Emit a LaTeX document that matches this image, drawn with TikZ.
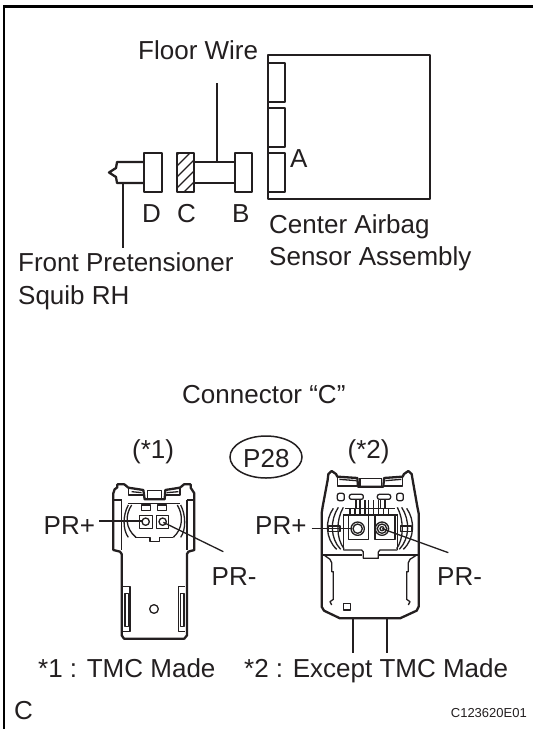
\documentclass[tikz,border=0pt]{standalone}
\usepackage{fontspec}
\setmainfont{Liberation Sans}
\usetikzlibrary{shapes.geometric}
\definecolor{ink}{HTML}{231F20}
\tikzset{
 thick line/.style={line width=2.3pt,draw=ink,line join=round},
 thin line/.style={line width=1.3pt,draw=ink},
 mid line/.style={line width=1.3pt,draw=ink,line join=round},
 lbl/.style={font=\fontsize{26}{30}\selectfont,text=ink,inner sep=0pt,anchor=base west},
 smalllbl/.style={font=\fontsize{13}{15}\selectfont,text=ink,inner sep=0pt,anchor=base east},
}
\begin{document}
\begin{tikzpicture}[x=1pt,y=-1pt]
\useasboundingbox (0,0) rectangle (533,729);
\fill[white] (0,0) rectangle (533,729);
\draw[line width=2.4pt,draw=black] (4,729) -- (4,6.5) -- (533,6.5);
% sensor
\draw[thick line] (268,55) rectangle (430,199);
\draw[thick line] (268,63) rectangle (285,102);
\draw[thick line] (268,108) rectangle (285,147);
\draw[thick line] (268,153) rectangle (285,192);
% connectors
\draw[thick line] (144,153) rectangle (162,192);
\begin{scope}
\clip (177,153) rectangle (194,192);
\foreach \k in {0,...,5} \draw[mid line] (170,{162+\k*11}) -- (200,{132+\k*11});
\end{scope}
\draw[thick line] (177,153) rectangle (194,192);
\draw[thick line] (235,153) rectangle (252,192);
\draw[thick line] (194,162) -- (235,162) (194,183) -- (235,183);
\draw[thick line] (144,162) -- (117,162) -- (116,168) -- (109,172.5) -- (116,177) -- (117,183) -- (144,183);
\coordinate (fw) at (217,83); \coordinate (fwb) at (217,162);
\draw[thin line] (fw) -- (fwb);
\coordinate (sq) at (123,183); \coordinate (sqb) at (123,248);
\draw[thin line] (sq) -- (sqb);
% labels
\node[lbl] (t1) at (138,59) {Floor Wire};
\node[lbl] (t2) at (290,167.5) {A};
\node[lbl] (t3) at (142,222) {D};
\node[lbl] (t4) at (177,222) {C};
\node[lbl] (t5) at (232,222) {B};
\node[lbl] (t6) at (269,233) {Center Airbag};
\node[lbl] (t7) at (269,265) {Sensor Assembly};
\node[lbl] (t8) at (18,271) {Front Pretensioner};
\node[lbl] (t9) at (18,304) {Squib RH};
\node[lbl] (t10) at (182,403) {Connector “C”};
\node[lbl] (t11) at (132,458.5) {(*1)};
\node[lbl] (t12) at (347.5,458) {(*2)};
\node[draw=ink,line width=1.5pt,ellipse,minimum width=72pt,minimum height=42pt,inner sep=0pt] (oval) at (266,457) {};
\node[lbl] (t13) at (243,467) {P28};
\node[lbl] (t14) at (43.5,534) {PR+};
\node[lbl] (t15) at (211.5,585) {PR-};
\node[lbl] (t16) at (255,534) {PR+};
\node[lbl] (t17) at (437,585) {PR-};
\node[lbl] (t18) at (38,677.5) {*1 : TMC Made};
\node[lbl] (t19) at (244,677.5) {*2 : Except TMC Made};
\node[lbl] (t20) at (14,719) {C};
\node[smalllbl] (t21) at (527,717) {C123620E01};
% connector 1
\begin{scope}[shift={(60pt,-450pt)},x=0.33333pt,y=-0.33333pt]
\draw[thick line] (160,300) -- (160,130) -- (164,118) -- (172,112) -- (172,103) -- (193,103) -- (205,113) -- (250,120) -- (254,148) -- (314,148) -- (316,120) -- (360,113) -- (372,103) -- (392,103) -- (392,113) -- (403,130) -- (403,300) -- (385,305) -- (381,312) -- (381,556) -- (373,566) -- (192,566) -- (185,556) -- (185,312) -- (180,305) -- cycle;
\draw[mid line] (262,148) -- (262,122) -- (305,122) -- (305,148);
\draw[mid line] (205,113) -- (205,135) -- (250,135) (316,135) -- (360,135) -- (360,113);
\draw[mid line] (215,125) -- (245,128) (320,128) -- (355,125);
\draw[mid line] (185,150) -- (185,300) (381,150) -- (381,300) (160,150) -- (185,150) (381,150) -- (403,150);
\draw[mid line] (245,165) rectangle (272,182) (292,165) rectangle (320,182);
\draw[mid line] (205,160) -- (360,160);
\draw[mid line] (215,165) .. controls (195,195) and (195,235) .. (228,262);
\draw[mid line] (205,165) .. controls (188,195) and (188,240) .. (205,262);
\draw[mid line] (352,165) .. controls (370,195) and (370,235) .. (340,262);
\draw[mid line] (362,165) .. controls (378,195) and (378,240) .. (362,262);
\draw[mid line] (238,197) rectangle (278,235) (290,197) rectangle (325,235);
\draw[mid line] (257,215) circle (11) (308,215) circle (11);
\draw[mid line] (225,262) -- (270,262) -- (270,275) -- (298,275) -- (298,262) -- (340,262);
\draw[mid line] (190,410) -- (210,410) -- (210,545) -- (190,545) (195,430) -- (205,430) -- (205,530) -- (195,530) -- cycle;
\draw[mid line] (375,410) -- (355,410) -- (355,545) -- (375,545) (372,430) -- (362,430) -- (362,530) -- (372,530) -- cycle;
\draw[mid line] (282,477) circle (13);
\coordinate (pa1) at (118,213); \coordinate (pa2) at (250,213);
\coordinate (pb1) at (310,217); \coordinate (pb2) at (490,305);
\draw[thin line] (pa1) -- (pa2);
\draw[thin line] (pb1) -- (pb2);
\end{scope}
% connector 2
\begin{scope}[shift={(280pt,-450pt)},x=0.33333pt,y=-0.33333pt]
\draw[thick line] (125,190) -- (128,170) -- (143,90) -- (145,72) -- (155,63) -- (168,72) -- (172,80) -- (232,84) -- (234,110) -- (310,110) -- (312,84) -- (368,80) -- (372,72) -- (385,63) -- (395,72) -- (398,90) -- (412,170) -- (416,190) -- (416,470) -- (410,482) -- (360,505) -- (180,505) -- (132,482) -- (125,470) -- cycle;
\draw[mid line] (172,80) -- (172,108) -- (232,108) (312,108) -- (368,108) -- (368,80) (240,85) -- (305,85) (240,85) -- (240,110) (305,85) -- (305,110);
\draw[mid line] (178,88) -- (230,92) (316,92) -- (364,88);
\draw[mid line,rounded corners=2pt] (172,130) rectangle (193,152) (350,130) rectangle (370,152);
\draw[mid line,rounded corners=2pt] (208,133) rectangle (250,148) (292,133) rectangle (332,148);
\draw[mid line] (228,148) -- (228,175) (240,148) -- (240,175) (302,148) -- (302,175) (315,148) -- (315,175);
\draw[mid line] (195,175) -- (345,175) (190,195) -- (355,195);
\foreach \vx in {210,225,240,255,265,280,295,310,325} \draw[mid line] (\vx,175) -- (\vx,195);
\draw[mid line] (255,150) -- (255,175) (265,150) -- (265,175) (280,150) -- (280,175) (295,150) -- (295,175);
\draw[mid line] (205,198) -- (205,268) -- (265,268) -- (265,198);
\draw[mid line] (285,198) -- (285,268) -- (345,268) -- (345,198);
\draw[mid line] (190,195) -- (190,300) (352,195) -- (352,300);
\draw[mid line] (233,236) circle (20) (233,236) circle (14);
\draw[mid line] (306,236) circle (20) (306,236) circle (14) (306,236) circle (6);
\draw[mid line] (160,175) .. controls (135,210) and (135,265) .. (170,298);
\draw[mid line] (175,172) .. controls (150,210) and (150,265) .. (182,298);
\draw[mid line] (190,172) .. controls (168,210) and (168,265) .. (192,296);
\draw[mid line] (380,175) .. controls (405,210) and (405,265) .. (370,298);
\draw[mid line] (365,172) .. controls (390,210) and (390,265) .. (358,298);
\draw[mid line] (352,172) .. controls (372,210) and (372,265) .. (350,296);
\draw[mid line] (145,228) rectangle (180,245) (362,228) rectangle (395,245);
\draw[mid line] (190,300) -- (245,300) -- (250,306) -- (250,325) -- (295,325) -- (295,306) -- (300,300) -- (352,300);
\draw[mid line] (128,315) -- (245,315) (298,315) -- (414,315);
\draw[mid line] (132,315) -- (150,328) -- (155,338) -- (155,365) -- (160,365) -- (160,448) -- (150,455) -- (155,465);
\draw[mid line] (410,315) -- (390,328) -- (385,338) -- (385,365) -- (380,365) -- (380,448) -- (390,455) -- (385,465);
\draw[mid line] (190,460) rectangle (212,480);
\draw[thick line] (220,505) -- (220,609) (320,505) -- (320,609);
\coordinate (qa1) at (95,236); \coordinate (qa2) at (215,236);
\coordinate (qb1) at (306,236); \coordinate (qb2) at (505,308);
\draw[thin line] (qa1) -- (qa2);
\draw[thin line] (qb1) -- (qb2);
\end{scope}
\end{tikzpicture}
\end{document}
